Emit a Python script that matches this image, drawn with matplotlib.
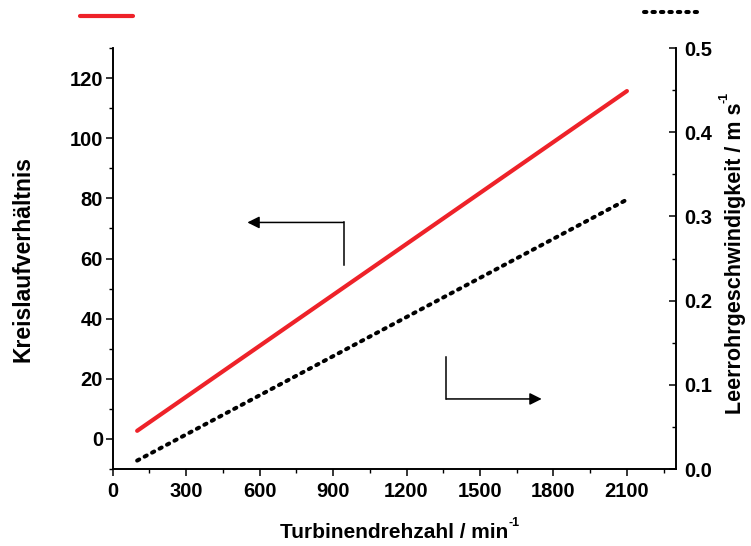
import matplotlib
matplotlib.use("Agg")
import matplotlib.pyplot as plt
from matplotlib.lines import Line2D
from matplotlib.ticker import MultipleLocator

# Data
rpm = [100, 2100]
kreislauf = [2.7, 115.7]          # left axis: Kreislaufverhältnis
leerrohr = [0.010, 0.320]         # right axis: Leerrohrgeschwindigkeit / m s^-1

x_ticks = [0, 300, 600, 900, 1200, 1500, 1800, 2100]
y_left_ticks = [0, 20, 40, 60, 80, 100, 120]
y_right_ticks = [0.0, 0.1, 0.2, 0.3, 0.4, 0.5]

plt.rcParams['font.family'] = ['Liberation Sans', 'DejaVu Sans']
plt.rcParams['font.weight'] = 'bold'

fig = plt.figure(figsize=(7.51, 5.46), dpi=100)
ax = fig.add_axes([0.150, 0.141, 0.750, 0.771])
ax2 = ax.twinx()

red = '#ee2229'
dots = (0, (0.6, 1.5))
ax.plot(rpm, kreislauf, color=red, lw=3.0, solid_capstyle='round')
ax2.plot(rpm, leerrohr, color='black', lw=2.9, linestyle=dots,
         dash_capstyle='round')

ax.set_xlim(0, 2300)
ax.set_ylim(-10, 130)
ax2.set_ylim(0, 0.5)

ax.set_xticks(x_ticks)
ax.set_yticks(y_left_ticks)
ax2.set_yticks(y_right_ticks)
ax2.set_yticklabels([f"{v:.1f}" for v in y_right_ticks])
ax.xaxis.set_minor_locator(MultipleLocator(150))
ax.yaxis.set_minor_locator(MultipleLocator(10))
ax2.yaxis.set_minor_locator(MultipleLocator(0.05))

for a in (ax, ax2):
    a.spines['top'].set_visible(False)
    for s in a.spines.values():
        s.set_linewidth(1.2)

TS = 14.5
ax.tick_params(axis='both', which='major', direction='out', length=5, width=1.1,
               labelsize=TS)
ax.tick_params(axis='x', which='major', pad=4)
ax.tick_params(axis='y', which='major', pad=2)
ax.tick_params(axis='both', which='minor', direction='out', length=2.8, width=1.0)
ax.tick_params(axis='y', right=False)
ax2.tick_params(axis='y', which='major', direction='in', length=5, width=1.1,
                labelsize=TS, pad=6)
ax2.tick_params(axis='y', which='minor', direction='in', length=2.8, width=1.0)

LS = 15
xl = ax.set_xlabel('Turbinendrehzahl / min', fontsize=LS, fontweight='bold',
                   labelpad=16)
ax.set_ylabel('Kreislaufverhältnis', fontsize=LS + 1.5, fontweight='bold',
              labelpad=25)
yl2 = ax2.set_ylabel('Leerrohrgeschwindigkeit / m s', fontsize=LS + 0.5,
                     fontweight='bold', labelpad=9)

# small "-1" superscripts attached to the unit labels
ax.annotate('-1', xy=(1.0, 1.0), xycoords=xl, ha='left', va='center',
            fontsize=9, fontweight='bold', annotation_clip=False)
ax2.annotate('-1', xy=(0.0, 1.0), xycoords=yl2, ha='center', va='bottom',
             rotation=90, fontsize=9, fontweight='bold', annotation_clip=False)

# Arrows indicating axes
ax.plot([943, 943], [58, 72], color='black', lw=1.1)
ax.annotate('', xy=(550, 72), xytext=(943, 72),
            arrowprops=dict(arrowstyle='-|>', color='black', lw=1.1,
                            mutation_scale=18, shrinkA=0, shrinkB=0))
ax.plot([1363, 1363], [27.4, 13.3], color='black', lw=1.1)
ax.annotate('', xy=(1752, 13.3), xytext=(1363, 13.3),
            arrowprops=dict(arrowstyle='-|>', color='black', lw=1.1,
                            mutation_scale=18, shrinkA=0, shrinkB=0))

# Legend line samples at the top
W, H = 751, 546
fig.add_artist(Line2D([80 / W, 133 / W], [1 - 16 / H, 1 - 16 / H], color=red,
                      lw=3.0, solid_capstyle='round'))
fig.add_artist(Line2D([644 / W, 697 / W], [1 - 12 / H, 1 - 12 / H], color='black',
                      lw=2.9, linestyle=dots, dash_capstyle='round'))

fig.savefig('out.png', dpi=100)
